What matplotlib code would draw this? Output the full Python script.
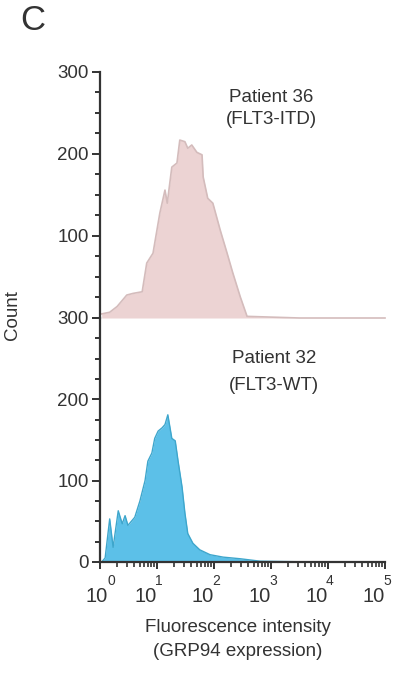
import matplotlib
matplotlib.use('Agg')
import matplotlib.pyplot as plt
import matplotlib.transforms as mtransforms
import numpy as np

plt.rcParams['font.family'] = ['Liberation Sans', 'DejaVu Sans']

# histogram outlines, x given as log10(intensity)
p36_log = [0.03, 0.17, 0.30, 0.47, 0.58, 0.74, 0.82, 0.93, 1.05, 1.14, 1.18, 1.26, 1.35, 1.40, 1.49,
           1.54, 1.61, 1.70, 1.79, 1.81, 1.89, 1.98, 2.11, 2.23, 2.33, 2.46, 2.58, 3.5, 5.0]
p36_count = [5, 7, 14, 28, 30, 32, 67, 79, 128, 156, 140, 184, 189, 217, 215,
             207, 211, 202, 199, 172, 146, 140, 107, 79, 55, 26, 2, 0, 0]

p32_log = [0.03, 0.09, 0.17, 0.23, 0.32, 0.39, 0.44, 0.49, 0.61, 0.70, 0.79, 0.84, 0.91, 0.96,
           1.02, 1.09, 1.14, 1.19, 1.26, 1.32, 1.37, 1.44, 1.49, 1.54, 1.63, 1.75, 1.93, 2.16,
           2.46, 2.81, 3.51, 5.0]
p32_count = [0, 5, 53, 18, 63, 47, 57, 45, 55, 75, 100, 124, 134, 152,
             161, 165, 169, 181, 152, 149, 124, 92, 60, 35, 23, 15, 9, 6,
             4, 1, 0.3, 0]

decades = [0, 1, 2, 3, 4, 5]
y_ticks = [0, 100, 200, 300]
y_labels_top = ['', '100', '200', '300']   # the 0 of the upper panel is hidden by the lower "300"
y_labels_bot = ['0', '100', '200', '300']

W, H = 398, 675
txt = '#333333'
fig = plt.figure(figsize=(W / 100, H / 100), dpi=100)
ax_top = fig.add_axes([100 / W, 1 - 318 / H, 285 / W, 246 / H])
ax_bot = fig.add_axes([100 / W, 1 - 562 / H, 285 / W, 244 / H])

for ax, labels in ((ax_top, y_labels_top), (ax_bot, y_labels_bot)):
    ax.set_xscale('log')
    ax.set_xlim(1, 1e5)
    ax.set_ylim(0, 300)
    ax.set_yticks(y_ticks)
    ax.set_yticklabels(labels)
    ax.set_yticks(np.arange(0, 301, 25), minor=True)
    for s in ('top', 'right'):
        ax.spines[s].set_visible(False)
    ax.spines['left'].set_linewidth(1.6)
    ax.spines['left'].set_color(txt)
    ax.tick_params(axis='y', which='major', length=6, width=1.4, color=txt,
                   labelsize=13.5, labelcolor=txt, pad=2)
    ax.tick_params(axis='y', which='minor', length=3.5, width=1.4, color=txt)
    ax.patch.set_alpha(0)

# top panel: patient 36
x36 = np.power(10.0, p36_log)
ax_top.fill_between(x36, p36_count, color='#ecd3d3', lw=0)
ax_top.plot(x36, p36_count, color='#d4bcbc', lw=1.2, clip_on=False)
ax_top.spines['bottom'].set_visible(False)
ax_top.tick_params(axis='x', which='both', bottom=False, labelbottom=False)
ax_top.text(0.6, 0.898, 'Patient 36', transform=ax_top.transAxes, ha='center', va='center',
            fontsize=13.5, color=txt)
ax_top.text(0.6, 0.805, '(FLT3-ITD)', transform=ax_top.transAxes, ha='center', va='center',
            fontsize=13.5, color=txt)

# bottom panel: patient 32
x32 = np.power(10.0, p32_log)
ax_bot.fill_between(x32, p32_count, color='#5cc0e8', lw=0)
ax_bot.plot(x32, p32_count, color='#3ea6cc', lw=1.0)
ax_bot.spines['bottom'].set_linewidth(1.6)
ax_bot.spines['bottom'].set_color(txt)
ax_bot.set_xticks([10.0 ** d for d in decades])
ax_bot.set_xticklabels([])
ax_bot.xaxis.set_minor_locator(matplotlib.ticker.LogLocator(base=10, subs=np.arange(2, 10), numticks=20))
ax_bot.xaxis.set_minor_formatter(matplotlib.ticker.NullFormatter())
ax_bot.tick_params(axis='x', which='major', length=5, width=1.4, color=txt)
ax_bot.tick_params(axis='x', which='minor', length=3.5, width=1.2, color=txt)
ax_bot.text(0.61, 0.836, 'Patient 32', transform=ax_bot.transAxes, ha='center', va='center',
            fontsize=13.5, color=txt)
ax_bot.text(0.61, 0.725, '(FLT3-WT)', transform=ax_bot.transAxes, ha='center', va='center',
            fontsize=13.5, color=txt)

# "10" with exponent set off to the right, as in the original
for i, d in enumerate(decades):
    dx_base = -3 if i == 0 else -11
    dx_exp = 11 if i == 0 else 2
    t_base = mtransforms.offset_copy(ax_bot.get_xaxis_transform(), fig=fig, x=dx_base, y=-34, units='dots')
    t_exp = mtransforms.offset_copy(ax_bot.get_xaxis_transform(), fig=fig, x=dx_exp, y=-19, units='dots')
    ax_bot.text(10.0 ** d, 0, '10', transform=t_base, ha='center', va='center', fontsize=14.5, color=txt)
    ax_bot.text(10.0 ** d, 0, str(d), transform=t_exp, ha='center', va='center', fontsize=10, color=txt)

fig.text(238 / W, 1 - 627 / H, 'Fluorescence intensity', ha='center', va='center', fontsize=13.5, color=txt)
fig.text(238 / W, 1 - 652 / H, '(GRP94 expression)', ha='center', va='center', fontsize=13.5, color=txt)
fig.text(13 / W, 1 - 315 / H, 'Count', rotation=90, ha='center', va='center', fontsize=13.5, color=txt)
fig.text(20 / W, 1 - 21 / H, 'C', ha='left', va='center', fontsize=25, color=txt)

fig.savefig('out.png', dpi=100)
